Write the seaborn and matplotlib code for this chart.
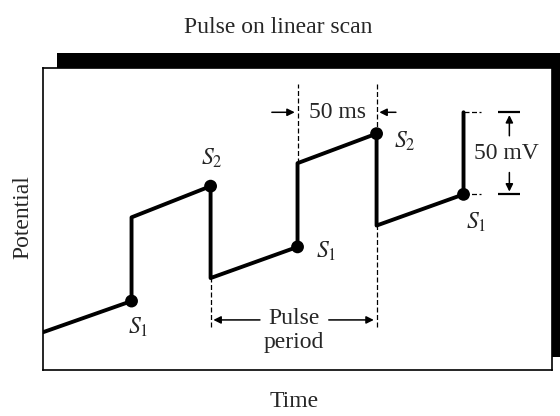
import numpy as np
import pandas as pd
import seaborn as sns
from matplotlib import pyplot as plt
from matplotlib.patches import Rectangle

# waveform (time in ms, potential in mV, arbitrary origin)
time = [0, 56, 56, 106, 106, 161, 161, 211, 211, 266, 266]
potential = [23, 42, 93, 112, 56, 75, 126, 144, 88, 107, 157]

# sampling points
s1_time = [56, 161, 266]
s1_potential = [42, 75, 107]
s2_time = [106, 211]
s2_potential = [112, 144]

pulse_width = 50   # ms
pulse_height = 50  # mV

sns.set_style("white")
plt.rcParams['font.family'] = ['Liberation Serif', 'DejaVu Serif']
plt.rcParams['mathtext.fontset'] = 'stix'

fig = plt.figure(figsize=(5.6, 4.16), dpi=100)

# black "shadow" frame behind the plot box
fig.patches.append(Rectangle((0.102, 0.142), 0.902, 0.731, transform=fig.transFigure,
                             facecolor='black', edgecolor='none', zorder=0))

ax = fig.add_axes([0.0768, 0.1106, 0.909, 0.726])
ax.set_zorder(1)
ax.set_facecolor('white')
for sp in ax.spines.values():
    sp.set_visible(True)
    sp.set_color('black')
    sp.set_linewidth(1.2)

df = pd.DataFrame({"time": time, "potential": potential})
sns.lineplot(data=df, x="time", y="potential", sort=False, estimator=None,
             color='black', linewidth=2.8, ax=ax)
sns.scatterplot(x=s1_time + s2_time, y=s1_potential + s2_potential,
                color='black', s=85, edgecolor='none', ax=ax, zorder=5)

ax.set_xlim(0, 322)
ax.set_ylim(0, 184)
ax.set_xticks([])
ax.set_yticks([])
ax.set_xlabel("")
ax.set_ylabel("")

fs = 17
dash = dict(color='black', linewidth=0.9, linestyles=(0, (4, 2)))

# guide lines for pulse period
t_a, t_b = s2_time[0], s2_time[1]
ax.vlines(t_a, 26, 56, **dash)
ax.vlines(t_b, 26, 88, **dash)
# guide lines for pulse width
ax.vlines(t_b - pulse_width, 126, 174, **dash)
ax.vlines(t_b, 144, 174, **dash)

# pulse period arrows
yp = 30.5
arr = dict(arrowstyle='-|>', color='black', lw=1.1, mutation_scale=11)
ax.annotate('', xy=(t_a, yp), xytext=(t_a + 33, yp), arrowprops=arr)
ax.annotate('', xy=(t_b, yp), xytext=(t_b - 32, yp), arrowprops=arr)
ax.text((t_a + t_b) / 2, yp + 1, 'Pulse', ha='center', va='center', fontsize=fs)
ax.text((t_a + t_b) / 2, yp - 14, 'period', ha='center', va='center', fontsize=fs)

# 50 ms arrows
yw = 157
ax.annotate('', xy=(t_b - pulse_width, yw), xytext=(t_b - pulse_width - 18, yw), arrowprops=arr)
ax.annotate('', xy=(t_b, yw), xytext=(t_b + 14, yw), arrowprops=arr)
ax.text(t_b - pulse_width / 2, yw, '50 ms', ha='center', va='center', fontsize=fs)

# 50 mV marker
t_s = s1_time[-1]
lo, hi = s1_potential[-1], s1_potential[-1] + pulse_height
ax.hlines([hi, lo], t_s, t_s + 11, color='black', linewidth=0.9, linestyles=(0, (4, 2)))
ax.hlines([hi, lo], t_s + 22, t_s + 36, color='black', linewidth=1.6)
ax.annotate('', xy=(t_s + 29, hi), xytext=(t_s + 29, hi - 16), arrowprops=arr)
ax.annotate('', xy=(t_s + 29, lo), xytext=(t_s + 29, lo + 15), arrowprops=arr)
ax.text(t_s + 27, (lo + hi) / 2, '50 mV', ha='center', va='center', fontsize=fs)

# sample labels
ax.text(s1_time[0] + 4, s1_potential[0] - 16, r'$S_1$', ha='center', va='center', fontsize=fs)
ax.text(s2_time[0] + 1, s2_potential[0] + 17, r'$S_2$', ha='center', va='center', fontsize=fs)
ax.text(s1_time[1] + 18, s1_potential[1] - 3, r'$S_1$', ha='center', va='center', fontsize=fs)
ax.text(s2_time[1] + 18, s2_potential[1] - 5, r'$S_2$', ha='center', va='center', fontsize=fs)
ax.text(s1_time[2] + 8, s1_potential[2] - 17, r'$S_1$', ha='center', va='center', fontsize=fs)

fig.text(0.497, 0.935, 'Pulse on linear scan', ha='center', va='center', fontsize=fs)
fig.text(0.041, 0.478, 'Potential', ha='center', va='center', rotation=90, fontsize=fs)
fig.text(0.525, 0.036, 'Time', ha='center', va='center', fontsize=fs)

fig.savefig('out.png', dpi=100)
